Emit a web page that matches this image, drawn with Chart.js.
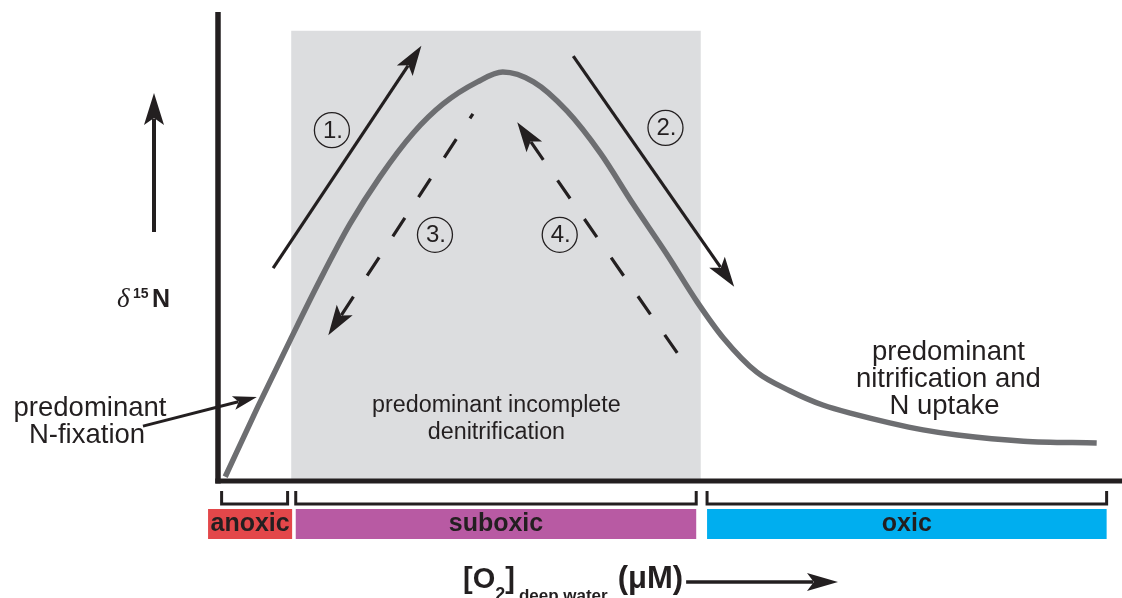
<!DOCTYPE html>
<html>
<head>
<meta charset="utf-8">
<script src="https://cdn.jsdelivr.net/npm/chart.js@4.4.1/dist/chart.umd.min.js"></script>
<style>
  html, body { margin: 0; padding: 0; background: #ffffff; }
  #wrap { width: 1122px; height: 598px; }
</style>
</head>
<body>
<div id="wrap"><canvas id="c" width="1122" height="598"></canvas></div>
<script>
// ---- data (O2 axis 0-100 arbitrary units, d15N axis 0-10 arbitrary units) ----
const o2 = [0.8, 4.4, 8.0, 11.3, 14.6, 17.9, 21.6, 24.9, 28.7, 31.5, 34.9, 38.6, 42.3, 45.9, 49.7, 53.0, 55.9, 59.6, 63.3, 66.9, 70.7, 74.3, 78.0, 81.8, 89.1, 97.2];
const d15N = [0.09, 1.58, 3.01, 4.29, 5.48, 6.48, 7.42, 8.04, 8.51, 8.72, 8.51, 7.89, 6.99, 5.91, 4.82, 3.82, 3.05, 2.32, 1.92, 1.62, 1.41, 1.24, 1.09, 0.98, 0.85, 0.81];

const zones = ['anoxic', 'suboxic', 'oxic'];
const zoneStart = [-1.1, 8.6, 54.1];
const zoneEnd = [8.2, 52.9, 98.3];
const bracketStart = [0.4, 8.6, 54.1];
const bracketEnd = [7.7, 52.9, 98.3];
const zoneColors = ['#e3474a', '#b85aa3', '#00aeef'];

const denitBoxX = [8.1, 53.4];
const denitBoxTop = 9.6;

const arrowFrom = [[6.1, 4.54], [39.3, 9.06], [28.2, 7.83], [50.8, 2.73]];
const arrowTo = [[22.5, 9.28], [57.1, 4.14], [12.2, 3.11], [33.1, 7.65]];
const arrowDashed = [false, false, true, true];

const stepLabels = ['1.', '2.', '3.', '4.'];
const stepX = [12.6, 49.5, 24.0, 37.8];
const stepY = [7.48, 7.53, 5.25, 5.25];

const fixArrowFrom = [-8.3, 1.17];
const fixArrowTo = [4.3, 1.79];

const textLeft = ['predominant', 'N-fixation'];
const textMid = ['predominant incomplete', 'denitrification'];
const textRight = ['predominant', 'nitrification and', 'N uptake'];
const textMidPos = [30.8, 1.6];
const textRightPos = [80.8, 2.75];

const INK = '#231f20';
const SANS = '"Liberation Sans", Arial, Helvetica, sans-serif';

function arrow(ctx, x1, y1, x2, y2, o) {
  const dx = x2 - x1, dy = y2 - y1, len = Math.hypot(dx, dy);
  const ux = dx / len, uy = dy / len, px = -uy, py = ux;
  const L = o.headLen, W = o.headW;
  const bx = x2 - ux * L * 0.8, by = y2 - uy * L * 0.8;
  ctx.save();
  ctx.strokeStyle = INK; ctx.fillStyle = INK;
  ctx.lineWidth = o.width; ctx.lineCap = 'butt';
  ctx.beginPath();
  if (o.dash) {
    ctx.setLineDash(o.dash);
    if (o.fromTip) { ctx.moveTo(bx, by); ctx.lineTo(x1, y1); }
    else { ctx.moveTo(x1, y1); ctx.lineTo(bx, by); }
  } else {
    ctx.moveTo(x1, y1); ctx.lineTo(bx, by);
  }
  ctx.stroke();
  ctx.setLineDash([]);
  ctx.beginPath();
  ctx.moveTo(x2, y2);
  ctx.lineTo(x2 - ux * L + px * W / 2, y2 - uy * L + py * W / 2);
  ctx.lineTo(x2 - ux * L * 0.78, y2 - uy * L * 0.78);
  ctx.lineTo(x2 - ux * L - px * W / 2, y2 - uy * L - py * W / 2);
  ctx.closePath();
  ctx.fill();
  ctx.restore();
}

const decor = {
  id: 'decor',
  beforeDatasetsDraw(chart) {
    const { ctx, chartArea: a, scales: { x, y } } = chart;
    ctx.save();
    // denitrification box
    const bx0 = x.getPixelForValue(denitBoxX[0]), bx1 = x.getPixelForValue(denitBoxX[1]);
    const by0 = y.getPixelForValue(denitBoxTop), by1 = y.getPixelForValue(0);
    ctx.fillStyle = '#dcdddf';
    ctx.fillRect(bx0, by0, bx1 - bx0, by1 - by0);
    // axes
    ctx.strokeStyle = INK; ctx.lineCap = 'butt';
    ctx.lineWidth = 5.5;
    ctx.beginPath(); ctx.moveTo(a.left, a.top); ctx.lineTo(a.left, a.bottom + 2.5); ctx.stroke();
    ctx.lineWidth = 5;
    ctx.beginPath(); ctx.moveTo(a.left - 2.7, a.bottom); ctx.lineTo(a.right, a.bottom); ctx.stroke();
    ctx.restore();
  },
  afterDatasetsDraw(chart) {
    const { ctx, chartArea: a, scales: { x, y } } = chart;
    ctx.save();
    // process arrows
    for (let i = 0; i < arrowFrom.length; i++) {
      arrow(ctx,
        x.getPixelForValue(arrowFrom[i][0]), y.getPixelForValue(arrowFrom[i][1]),
        x.getPixelForValue(arrowTo[i][0]), y.getPixelForValue(arrowTo[i][1]),
        { width: 3.2, headLen: 30, headW: 19, dash: arrowDashed[i] ? [22, 25] : null, fromTip: i === 2 });
    }
    // step circles
    for (let i = 0; i < stepLabels.length; i++) {
      const cx = x.getPixelForValue(stepX[i]), cy = y.getPixelForValue(stepY[i]);
      ctx.beginPath(); ctx.arc(cx, cy, 17.5, 0, Math.PI * 2);
      ctx.lineWidth = 1.3; ctx.strokeStyle = INK; ctx.stroke();
      ctx.fillStyle = INK; ctx.font = '24px ' + SANS;
      ctx.textAlign = 'center'; ctx.textBaseline = 'middle';
      ctx.fillText(stepLabels[i], cx + 1, cy + 1);
    }
    // N-fixation arrow
    arrow(ctx, x.getPixelForValue(fixArrowFrom[0]), y.getPixelForValue(fixArrowFrom[1]),
      x.getPixelForValue(fixArrowTo[0]), y.getPixelForValue(fixArrowTo[1]),
      { width: 3, headLen: 24, headW: 14 });
    // texts
    ctx.fillStyle = INK; ctx.textAlign = 'center'; ctx.textBaseline = 'middle';
    ctx.font = '27.5px ' + SANS;
    ctx.fillText(textLeft[0], a.left - 128, 408);
    ctx.fillText(textLeft[1], a.left - 131, 435);
    textRight.forEach((t, i) => ctx.fillText(t, x.getPixelForValue(textRightPos[0]) + (i === 2 ? -4 : 0), y.getPixelForValue(textRightPos[1]) + i * 27));
    ctx.font = '23.3px ' + SANS;
    textMid.forEach((t, i) => ctx.fillText(t, x.getPixelForValue(textMidPos[0]), y.getPixelForValue(textMidPos[1]) + i * 27));
    // zone brackets and bars
    const bTop = a.bottom + 10, bBot = a.bottom + 23;
    ctx.strokeStyle = INK; ctx.lineWidth = 3; ctx.lineJoin = 'miter';
    for (let i = 0; i < zones.length; i++) {
      const s = x.getPixelForValue(bracketStart[i]), e = x.getPixelForValue(bracketEnd[i]);
      ctx.beginPath(); ctx.moveTo(s, bTop); ctx.lineTo(s, bBot); ctx.lineTo(e, bBot); ctx.lineTo(e, bTop); ctx.stroke();
      const zs = x.getPixelForValue(zoneStart[i]), ze = x.getPixelForValue(zoneEnd[i]);
      ctx.fillStyle = zoneColors[i];
      ctx.fillRect(zs, a.bottom + 28, ze - zs, 30);
      ctx.fillStyle = INK; ctx.font = 'bold 25px ' + SANS;
      ctx.fillText(zones[i], (zs + ze) / 2, a.bottom + 43);
    }
    // y-axis title
    ctx.textAlign = 'left'; ctx.textBaseline = 'alphabetic';
    ctx.font = 'italic 27px "Liberation Serif", serif';
    ctx.fillText('\u03B4', a.left - 101, 307);
    ctx.font = 'bold 14px ' + SANS;
    ctx.fillText('15', a.left - 85, 298);
    ctx.font = 'bold 25px ' + SANS;
    ctx.fillText('N', a.left - 66, 307);
    // y direction arrow
    arrow(ctx, a.left - 64, 232, a.left - 64, 93, { width: 4, headLen: 32, headW: 20 });
    // x-axis title
    let tx = a.left + 245; const base = 588;
    ctx.font = 'bold 29px ' + SANS;
    ctx.fillText('[O', tx, base); tx += ctx.measureText('[O').width;
    ctx.font = 'bold 18px ' + SANS;
    ctx.fillText('2', tx, base + 12); tx += ctx.measureText('2').width;
    ctx.font = 'bold 29px ' + SANS;
    ctx.fillText(']', tx, base); tx += ctx.measureText(']').width + 4;
    ctx.font = 'bold 17px ' + SANS;
    ctx.fillText('deep water', tx, base + 13); tx += ctx.measureText('deep water').width + 10;
    ctx.font = 'bold 31px ' + SANS;
    ctx.fillText('(\u03BCM)', tx, base); tx += ctx.measureText('(\u03BCM)').width + 3;
    arrow(ctx, tx, 582, a.left + 620, 582, { width: 3.5, headLen: 31, headW: 18 });
    ctx.restore();
  }
};

new Chart(document.getElementById('c'), {
  type: 'line',
  data: {
    datasets: [{
      data: o2.map((v, i) => ({ x: v, y: d15N[i] })),
      borderColor: '#6d6e71',
      borderWidth: 5.5,
      pointRadius: 0,
      tension: 0.4,
      cubicInterpolationMode: 'monotone',
      fill: false,
      clip: false
    }]
  },
  options: {
    responsive: false,
    animation: false,
    devicePixelRatio: 1,
    layout: { padding: { left: 218, right: 0, top: 12, bottom: 117 } },
    scales: {
      x: { type: 'linear', min: 0, max: 100, display: false },
      y: { min: 0, max: 10, display: false }
    },
    plugins: { legend: { display: false }, tooltip: { enabled: false } }
  },
  plugins: [decor]
});
</script>
</body>
</html>
